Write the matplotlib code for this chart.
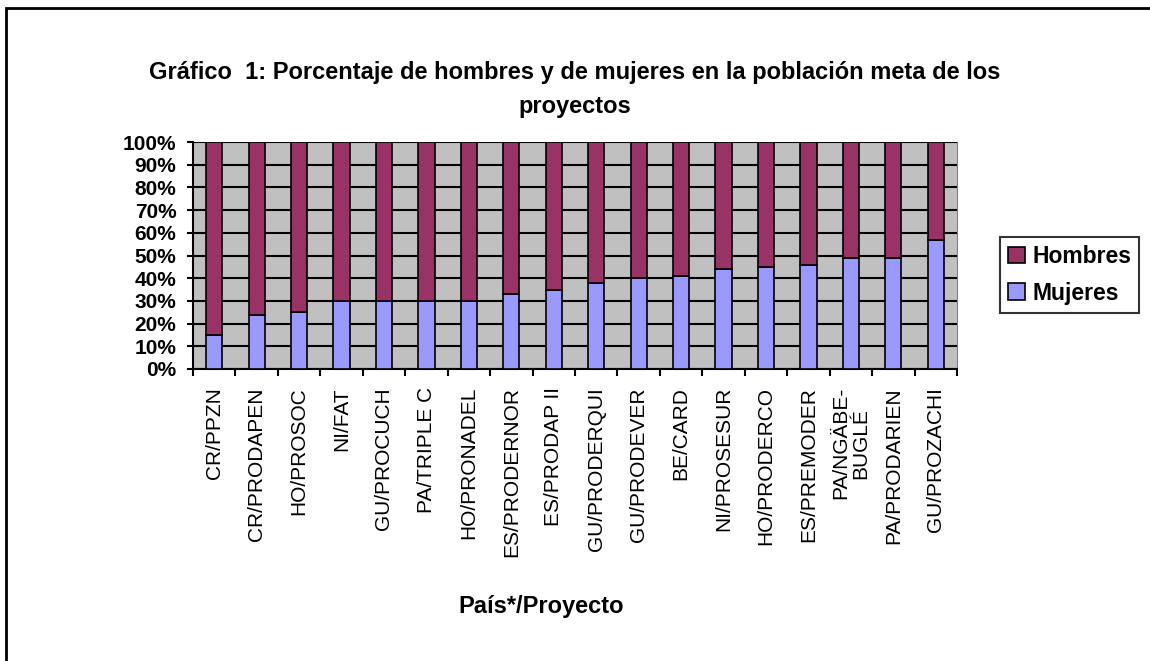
import numpy as np
import matplotlib
matplotlib.use('Agg')
import matplotlib.pyplot as plt
from matplotlib.patches import Rectangle

plt.rcParams['font.family'] = ['Liberation Sans', 'DejaVu Sans']

proyectos = ['CR/PPZN', 'CR/PRODAPEN', 'HO/PROSOC', 'NI/FAT', 'GU/PROCUCH',
             'PA/TRIPLE C', 'HO/PRONADEL', 'ES/PRODERNOR', 'ES/PRODAP II',
             'GU/PRODERQUI', 'GU/PRODEVER', 'BE/CARD', 'NI/PROSESUR',
             'HO/PRODERCO', 'ES/PREMODER', 'PA/NGÄBE-\nBUGLÉ', 'PA/PRODARIEN',
             'GU/PROZACHI']
mujeres = [15, 24, 25, 30, 30, 30, 30, 33, 35, 38, 40, 41, 44, 45, 46, 49, 49, 57]
hombres = [100 - m for m in mujeres]

fig = plt.figure(figsize=(11.5, 6.61), dpi=100)
ax = fig.add_axes([193 / 1150, 1 - 369 / 661, (957 - 193) / 1150, (369 - 142) / 661])

x = np.arange(len(proyectos))
ax.bar(x, mujeres, width=0.38, color='#9999FF', edgecolor='black', lw=1.2, label='Mujeres', zorder=3)
ax.bar(x, hombres, width=0.38, bottom=mujeres, color='#993366', edgecolor='black', lw=1.2,
       label='Hombres', zorder=3)

ax.set_facecolor('#C0C0C0')
ax.set_xlim(-0.5, len(proyectos) - 0.5)
ax.set_ylim(0, 100)
ax.set_yticks(np.arange(0, 101, 10))
ax.set_yticklabels([f'{v}%' for v in range(0, 101, 10)], fontsize=15, fontweight='bold')
ax.yaxis.grid(True, color='black', lw=1.5, zorder=1)
ax.set_axisbelow(True)

# ticks between categories, labels under each bar
ax.set_xticks(np.arange(-0.5, len(proyectos), 1))
ax.set_xticklabels([])
ax.set_xticks(x, minor=True)
ax.set_xticklabels(proyectos, minor=True, rotation=90, fontsize=15, va='top', ha='center',
                   linespacing=1.1)
ax.tick_params(axis='x', which='minor', length=0, pad=13)
ax.tick_params(axis='x', which='major', length=5, width=1.5, direction='out')
ax.tick_params(axis='y', length=4, width=1.5, direction='out', pad=8)

for side in ['left', 'bottom']:
    ax.spines[side].set_linewidth(1.5)
ax.spines['top'].set_visible(False)
ax.spines['right'].set_color('#808080')

fig.text(575 / 1150, 1 - 72 / 661, 'Gráfico  1: Porcentaje de hombres y de mujeres en la población meta de los',
         ha='center', va='center', fontsize=17, fontweight='bold')
fig.text(575 / 1150, 1 - 106 / 661, 'proyectos', ha='center', va='center', fontsize=17, fontweight='bold')
fig.text(541 / 1150, 1 - 607 / 661, 'País*/Proyecto', ha='center', va='center', fontsize=17,
         fontweight='bold')

handles, labels = ax.get_legend_handles_labels()
leg = fig.legend(handles[::-1], labels[::-1], loc='upper left',
                 bbox_to_anchor=(1000 / 1150, 1 - 237 / 661), frameon=True, fancybox=False,
                 edgecolor='black', prop={'weight': 'bold', 'size': 16.5}, handlelength=0.75,
                 handleheight=0.75, handletextpad=0.3, borderpad=0.35, labelspacing=0.6,
                 borderaxespad=0)
leg.get_frame().set_linewidth(1.5)

fig.patches.append(Rectangle((6 / 1150, -0.1), 1.2, 1 - 8 / 661 + 0.1, transform=fig.transFigure,
                             fill=False, edgecolor='black', lw=2))

fig.savefig('out.png', dpi=100)
